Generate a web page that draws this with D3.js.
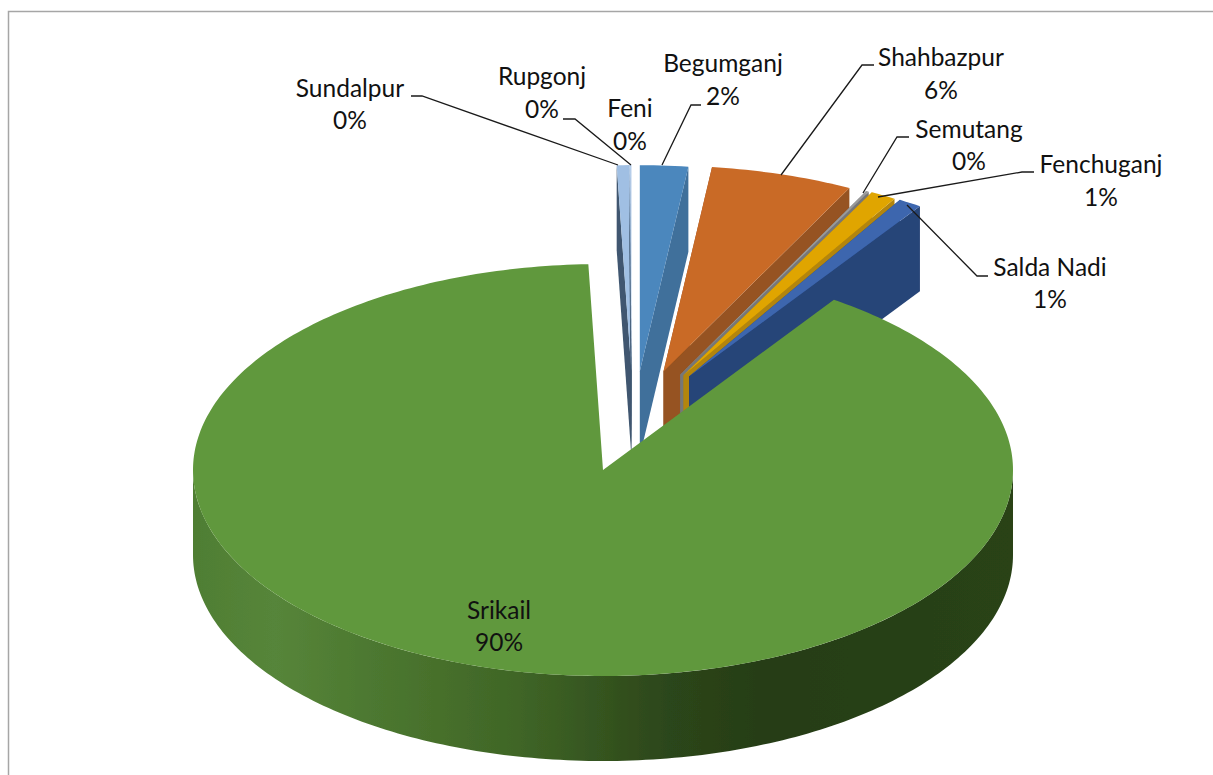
<!DOCTYPE html>
<html><head><meta charset="utf-8">
<script src="https://cdn.jsdelivr.net/npm/d3@7"></script>
<style>html,body{margin:0;padding:0;background:#fff}svg{display:block}text{font-family:Lato,"Open Sans",sans-serif;font-size:24.5px;fill:#111;text-anchor:middle}</style>
</head><body><svg id="c" width="1213" height="775"></svg>
<script>
const categories = ["Sundalpur","Rupgonj","Feni","Begumganj","Shahbazpur","Semutang","Fenchuganj","Salda Nadi","Srikail"];
const shares     = [0.49,0.04,0.04,1.89,5.6,0.11,1.0,0.92,89.91];
const percentLabels = ["0%","0%","0%","2%","6%","0%","1%","1%","90%"];
const topColors  = ["#a0bfe3","#a0bfe3","#a0bfe3","#4b87bd","#c96a28","#9a9a9a","#e0a500","#3c66ae","#60983c"];
const wallColors = ["#3f5770","#3f5770","#3f5770","#3f6f9b","#965320","#777777","#b3850a","#274478","url(#rim)"];

// layout of the labels: [center x, first baseline, second baseline]
const labelPos = [[350,97,129],[542,85,118],[630,117,150],[723,72,105],[941,66,99],[969,138,170],[1101,173,206],[1050,276,308],[499,619,651]];
const leaders = [
 [[411,96],[422,96],[618,165]],
 [[563,119],[575,119],[631,165]],
 [],
 [[701,105],[691,105],[662,165]],
 [[874,65],[862,65],[781,175]],
 [[909,137],[897,137],[863,193]],
 [[1034,172],[1022,172],[878,197]],
 [[988,276],[977,276],[907,205]],
 []
];

const svg = d3.select("#c");
const W=1213,H=775;
svg.append("path").attr("d",`M8.5,${H} V11.5 H${W}`).attr("fill","none").attr("stroke","#a6a6a6").attr("stroke-width",1.5);

const x = d3.scaleLinear().domain([-1,1]).range([193,1013]);
const y = d3.scaleLinear().domain([-1,1]).range([264,676]);
const depth = 85;
const rad = d=>d*Math.PI/180;

const startA = rad(-2.05);
const arcs = d3.pie().sort(null).value((d,i)=>shares[i]).startAngle(startA).endAngle(startA+2*Math.PI)(categories);

// exploded slices: perspective bends the direction of travel relative to the slice mid-angle
const dirScale = d3.scaleLinear().domain([rad(-1.2),0,rad(3.4),rad(33)]).range([rad(8.2),rad(8.2),rad(10.6),rad(25)]);
const explodeScale = d3.scaleLinear().domain([0,rad(17)]).range([0.485,0.5]).clamp(true);

const defs = svg.append("defs");
const g = defs.append("linearGradient").attr("id","rim").attr("gradientUnits","userSpaceOnUse")
  .attr("x1",193).attr("x2",1013).attr("y1",0).attr("y2",0);
[[0,"#4f7e33"],[0.1,"#56853a"],[0.2,"#4e7a31"],[0.4,"#3f6526"],[0.58,"#2c461a"],[0.7,"#263d17"],[1,"#294318"]]
 .forEach(s=>g.append("stop").attr("offset",s[0]).attr("stop-color",s[1]));
defs.append("filter").attr("id","soft").append("feGaussianBlur").attr("stdDeviation",0.45);

const line = d3.line().x(p=>p[0]).y(p=>p[1]);
const pie3d = svg.append("g").attr("filter","url(#soft)");

arcs.forEach((a,i)=>{
  const big = i===arcs.length-1;
  const mid=(a.startAngle+a.endAngle)/2;
  const ex = big?0:explodeScale(mid)*Math.sin(dirScale(mid));
  const ey = big?0:-explodeScale(mid)*Math.cos(dirScale(mid));
  const P=(t,r=1,dz=0)=>[x(ex+r*Math.sin(t)),y(ey-r*Math.cos(t))+dz];
  const steps=Math.max(2,Math.ceil((a.endAngle-a.startAngle)/rad(1)));
  const ts=d3.range(steps+1).map(k=>a.startAngle+(a.endAngle-a.startAngle)*k/steps);
  const apex=P(0,0);
  if(big){
    const rs=d3.range(0,181).map(k=>rad(90+k));
    const rim=[...rs.map(t=>P(t)),...rs.slice().reverse().map(t=>P(t,1,depth))];
    pie3d.append("path").attr("d",line(rim)+"Z").attr("fill",wallColors[i]);
  } else {
    [a.startAngle,a.endAngle].forEach(t=>{
      const c=P(t);
      pie3d.append("path").attr("d",line([apex,c,[c[0],c[1]+depth],[apex[0],apex[1]+depth]])+"Z")
        .attr("fill",wallColors[i]);
    });
  }
  pie3d.append("path").attr("d",line([apex,...ts.map(t=>P(t))])+"Z").attr("fill",topColors[i]);
});

leaders.forEach(l=>{ if(l.length) svg.append("path").attr("d",line(l)).attr("fill","none").attr("stroke","#1a1a1a").attr("stroke-width",1.3); });

categories.forEach((c,i)=>{
  const p=labelPos[i];
  svg.append("text").attr("x",p[0]).attr("y",p[1]).text(c);
  svg.append("text").attr("x",p[0]).attr("y",p[2]).text(percentLabels[i]);
});
</script></body></html>
